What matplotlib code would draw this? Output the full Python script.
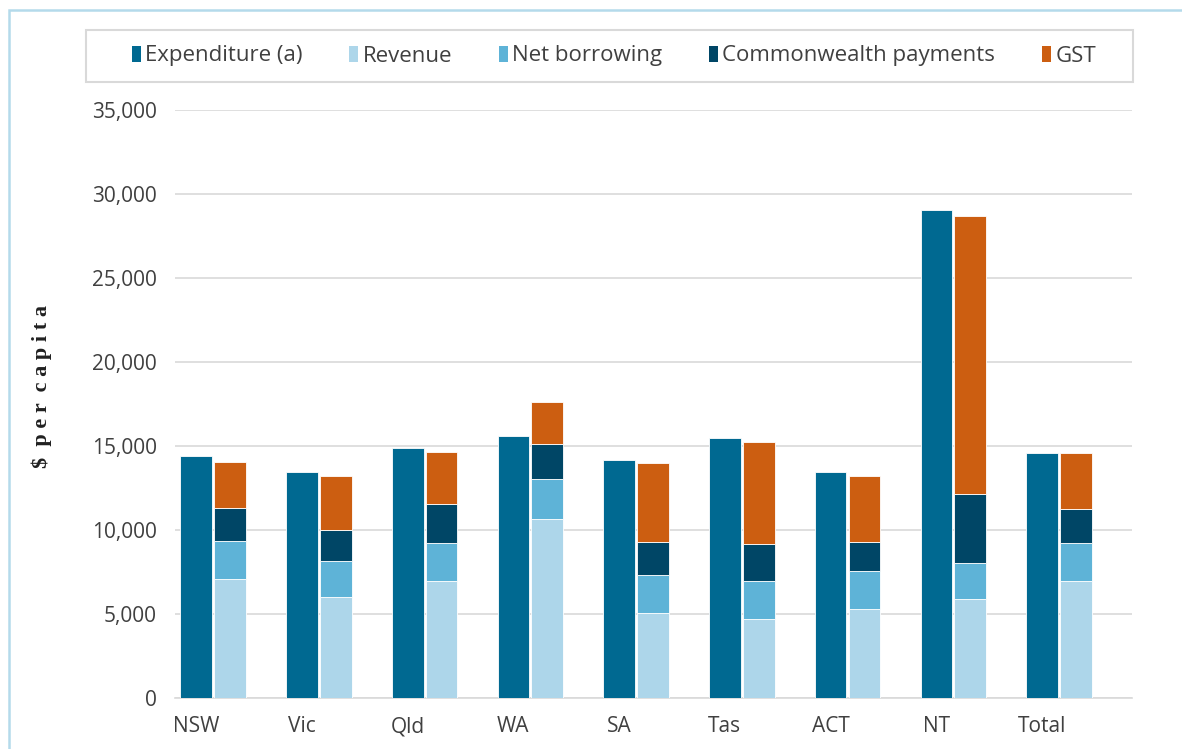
import matplotlib
matplotlib.use("Agg")
import matplotlib.pyplot as plt
from matplotlib.patches import Rectangle, Patch
import numpy as np

categories = ["NSW", "Vic", "Qld", "WA", "SA", "Tas", "ACT", "NT", "Total"]
expenditure = [14420, 13470, 14900, 15615, 14190, 15500, 13470, 29030, 14560]
revenue = [7065, 6010, 6965, 10635, 5060, 4700, 5300, 5890, 6965]
net_borrowing = [2260, 2125, 2240, 2380, 2240, 2245, 2240, 2125, 2240]
commonwealth = [2005, 1885, 2360, 2125, 2005, 2245, 1765, 4150, 2025]
gst = [2735, 3215, 3095, 2500, 4660, 6070, 3930, 16520, 3335]

series_names = ["Expenditure (a)", "Revenue", "Net borrowing", "Commonwealth payments", "GST"]
colors = ["#006991", "#ADD6EA", "#5EB3D7", "#004666", "#CC5E11"]

plt.rcParams['font.family'] = ['Open Sans', 'DejaVu Sans']

W, H = 1182, 749
fig = plt.figure(figsize=(W / 100, H / 100), dpi=100)
ax = fig.add_axes([175 / W, 1 - 698 / H, (1132 - 175) / W, (698 - 110) / H])

x = np.arange(len(categories))
bw = 0.30
off = 0.32
ec = dict(edgecolor="white", linewidth=0.6)

ax.bar(x, expenditure, bw, color=colors[0], zorder=3, **ec)
bottom = np.zeros(len(categories))
for vals, col in zip([revenue, net_borrowing, commonwealth, gst], colors[1:]):
    ax.bar(x + off, vals, bw, bottom=bottom, color=col, zorder=3, **ec)
    bottom += np.array(vals)

ax.set_xlim(-0.2, 8.85)
ax.set_ylim(0, 35000)
ax.set_yticks(np.arange(0, 35001, 5000))
ax.set_yticklabels([f"{v:,}" for v in range(0, 35001, 5000)])
ax.set_xticks(x)
ax.set_xticklabels(categories)
ax.grid(axis="y", color="#D9D9D9", linewidth=1.2, zorder=0)
for s in ["top", "right", "left"]:
    ax.spines[s].set_visible(False)
ax.spines["bottom"].set_color("#D9D9D9")
ax.spines["bottom"].set_linewidth(1.2)
ax.tick_params(axis="both", length=0, labelsize=15, colors="#404040")
ax.tick_params(axis="y", pad=13)
ax.tick_params(axis="x", pad=13)

fig.text(42 / W, 1 - 386 / H, "$  p e r  c a p i t a", rotation=90, ha="center", va="center",
         family="Liberation Serif", fontsize=16, fontweight="bold", color="#202020")

handles = [Patch(facecolor=c) for c in colors]
leg = fig.legend(handles, series_names, loc="center",
                 bbox_to_anchor=(614 / W, 1 - 56 / H),
                 ncol=5, frameon=False, fontsize=16, handlelength=0.4, handleheight=0.75,
                 handletextpad=0.2, columnspacing=2.1, borderpad=0, borderaxespad=0)
for t in leg.get_texts():
    t.set_color("#404040")

fig.patches.append(Rectangle((86 / W, 1 - 82 / H), (1133 - 86) / W, 52 / H, transform=fig.transFigure,
                             fill=False, edgecolor="#D9D9D9", linewidth=1.5))
fig.patches.append(Rectangle((8.5 / W, -0.1), 1.2, 1 - 10 / H + 0.1, transform=fig.transFigure,
                             fill=False, edgecolor="#B4DAEB", linewidth=1.8))

fig.savefig("out.png", dpi=100)
